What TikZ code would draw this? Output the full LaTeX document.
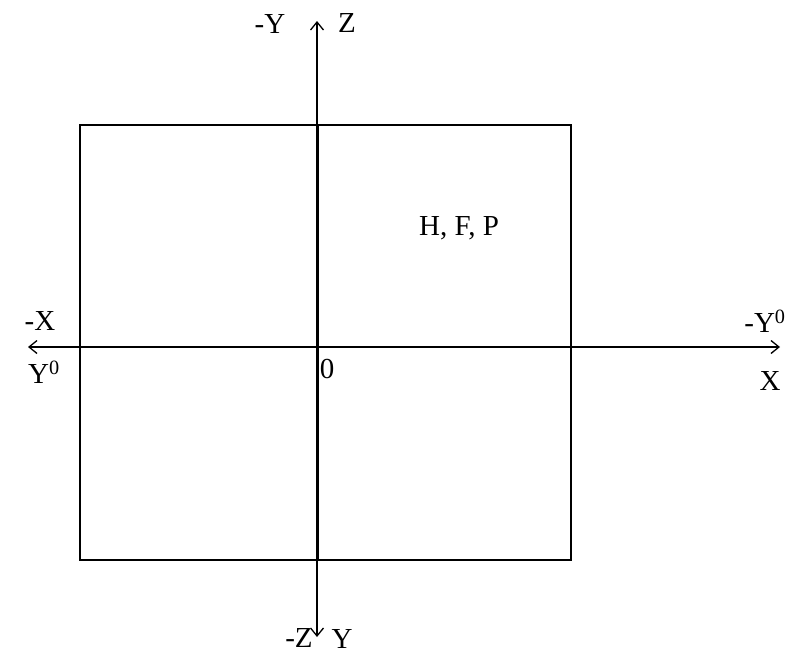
\documentclass[tikz,border=0pt]{standalone}
\usepackage{fontspec}
\setmainfont{Liberation Serif}
\usetikzlibrary{arrows.meta}
\begin{document}
\begin{tikzpicture}[x=1pt, y=-1pt, font=\fontsize{29}{34}\selectfont,
    axis/.style={line width=1.3pt, arrows={-Straight Barb[length=8pt,width=13pt]}},
    lbl/.style={inner sep=1pt}]
    % canvas
    \useasboundingbox (0,0) rectangle (805,654);
    \fill[white] (0,0) rectangle (805,654);

    % Axis end points
    \coordinate (top) at (317,21);
    \coordinate (bottom) at (317,637);
    \coordinate (left) at (28,347);
    \coordinate (right) at (780,347);
    \coordinate (orig) at (317,347);
    \coordinate (sqtop) at (317,125);
    \coordinate (sqbot) at (317,560);

    % Square
    \draw[line width=1.3pt] (80,125) rectangle (571,560);

    % Axes
    \draw[axis] (orig) -- (left);
    \draw[axis] (orig) -- (right);
    \draw[axis] (sqtop) -- (top);
    \draw[axis] (sqbot) -- (bottom);
    \draw[line width=3.2pt] ([xshift=0.5pt]sqtop) -- ([xshift=0.5pt]sqbot);

    % Labels
    \node[lbl] (mY) at (270,24) {-Y};
    \node[lbl] (Z) at (347,23) {Z};
    \node[lbl] (mZ) at (299,638) {-Z};
    \node[lbl] (Y) at (342,639) {Y};
    \node[lbl] (mX) at (40,321) {-X};
    \node[lbl] (Y0) at (44,372) {Y\textsuperscript{0}};
    \node[lbl] (mY0) at (765,321) {-Y\textsuperscript{0}};
    \node[lbl] (X) at (770,381) {X};
    \node[lbl] (O) at (327,369) {0};
    \node[lbl] (HFP) at (459,228) {H, F, P};
\end{tikzpicture}
\end{document}
